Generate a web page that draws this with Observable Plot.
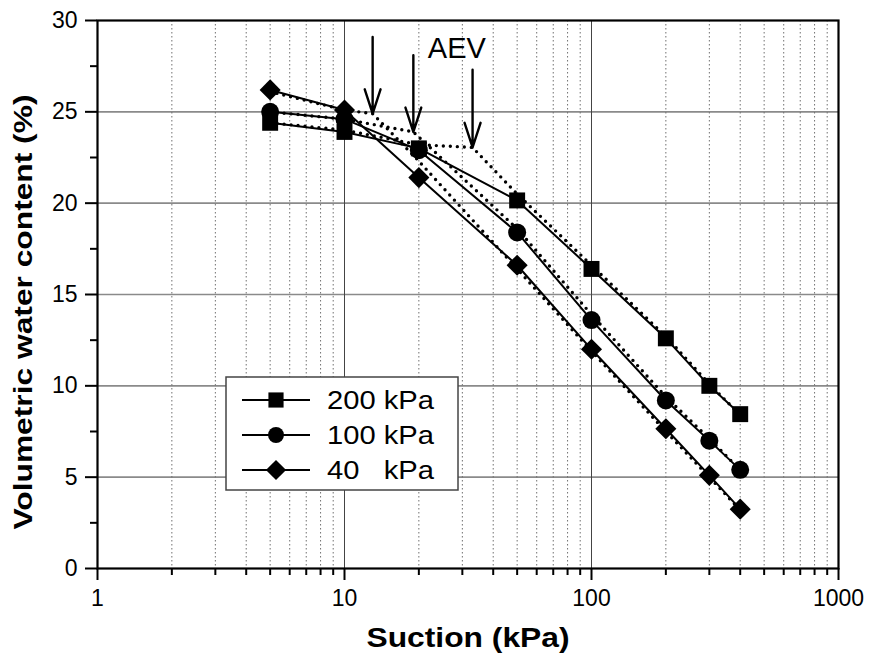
<!DOCTYPE html>
<html><head><meta charset="utf-8">
<script src="https://cdn.jsdelivr.net/npm/d3@7"></script>
<script src="https://cdn.jsdelivr.net/npm/@observablehq/plot@0.6"></script>
<style>
body{margin:0;background:#fff;}
#chart{width:870px;height:656px;}
svg{font-family:"Liberation Sans",Arial,sans-serif;}
</style></head><body><div id="chart"></div>
<script>
// ---- data ----
const suction = [5, 10, 20, 50, 100, 200, 300, 400];
const wc200 = [24.4, 23.9, 23.0, 20.15, 16.4, 12.6, 10.0, 8.45];
const wc100 = [25.0, 24.6, 22.9, 18.4, 13.6, 9.2, 7.0, 5.4];
const wc40  = [26.2, 25.1, 21.4, 16.6, 12.0, 7.65, 5.1, 3.25];

// dotted fitted curves
const fit200Suction = [5, 10, 20, 33, 50, 100, 200, 300, 400];
const fit200Wc      = [24.4, 24.0, 23.2, 23.05, 20.5, 16.6, 12.7, 10.1, 8.4];
const fit100Suction = [5, 10, 19, 50, 100, 200, 300, 400];
const fit100Wc      = [25.0, 24.6, 23.9, 18.6, 13.9, 9.4, 7.1, 5.4];
const fit40Suction  = [5, 10, 13, 20, 50, 100, 200, 300, 400];
const fit40Wc       = [26.1, 25.1, 24.9, 22.3, 16.4, 11.9, 7.5, 5.0, 3.2];

// AEV arrows
const aevSuction = [13, 19, 33];
const aevTip     = [24.9, 23.9, 23.05];
const aevTail    = [29.1, 28.1, 27.3];

const seriesNames = ["200 kPa", "100 kPa", "40   kPa"];

// ticks
const yTicks = [0, 5, 10, 15, 20, 25, 30];
const yMinor = [2.5, 7.5, 12.5, 17.5, 22.5, 27.5];
const yGrid = [5, 10, 15, 20, 25];
const xTicks = [1, 10, 100, 1000];
const xMinor = [2,3,4,5,6,7,8,9,20,30,40,50,60,70,80,90,200,300,400,500,600,700,800,900];
const xMajorGrid = [10, 100];

// ---- build tables ----
const toPts = (xs, ys) => xs.map((x, i) => ({x, y: ys[i]}));
const p200 = toPts(suction, wc200), p100 = toPts(suction, wc100), p40 = toPts(suction, wc40);
const f200 = toPts(fit200Suction, fit200Wc), f100 = toPts(fit100Suction, fit100Wc), f40 = toPts(fit40Suction, fit40Wc);
const aev = aevSuction.map((x, i) => ({x, tip: aevTip[i], tail: aevTail[i]}));

const dotted = {stroke: "black", strokeWidth: 3.4, strokeDasharray: "0,7", strokeLinecap: "round"};
const solid = {stroke: "black", strokeWidth: 2};

const plot = Plot.plot({
  width: 870, height: 656,
  marginLeft: 97, marginRight: 32, marginTop: 20, marginBottom: 88,
  x: {type: "log", domain: [1, 1000], label: null},
  y: {domain: [0, 30], label: null},
  style: {fontFamily: "'Liberation Sans', Arial, sans-serif", background: "white", color: "black"},
  marks: [
    Plot.ruleY(yGrid, {stroke: "#8a8a8a", strokeWidth: 1.6}),
    Plot.ruleX(xMinor, {stroke: "#707070", strokeWidth: 1, strokeDasharray: "1.5,2.5"}),
    Plot.ruleX(xMajorGrid, {stroke: "#444", strokeWidth: 1}),
    Plot.axisY({ticks: yTicks, tickSize: 12, tickPadding: 8, fontSize: 23, strokeWidth: 2, label: null}),
    Plot.axisY({ticks: yMinor, tickSize: 7, tickFormat: () => "", strokeWidth: 2, label: null}),
    Plot.axisX({ticks: xTicks, tickSize: 12, tickPadding: 9, fontSize: 23, strokeWidth: 2, tickFormat: d => String(d), label: null}),
    Plot.axisX({ticks: xMinor, tickSize: 7, tickFormat: () => "", strokeWidth: 2, label: null}),
    Plot.frame({stroke: "black", strokeWidth: 2.2}),
    Plot.line(f200, {x: "x", y: "y", ...dotted}),
    Plot.line(f100, {x: "x", y: "y", ...dotted}),
    Plot.line(f40, {x: "x", y: "y", ...dotted}),
    Plot.line(p200, {x: "x", y: "y", ...solid}),
    Plot.line(p100, {x: "x", y: "y", ...solid}),
    Plot.line(p40, {x: "x", y: "y", ...solid}),
    Plot.dot(p200, {x: "x", y: "y", symbol: "square", r: 9, fill: "black"}),
    Plot.dot(p100, {x: "x", y: "y", symbol: "circle", r: 9, fill: "black"}),
    Plot.dot(p40, {x: "x", y: "y", symbol: "diamond2", r: 9.5, fill: "black"}),
    Plot.arrow(aev, {x1: "x", y1: "tail", x2: "x", y2: "tip", stroke: "black", strokeWidth: 2.4, headLength: 26, headAngle: 36}),
    Plot.text(["AEV"], {x: [28.5], y: [28.45], text: d => d, fontSize: 29, fill: "black"})
  ]
});
document.getElementById("chart").appendChild(plot);

// ---- axis titles and legend ----
const svg = d3.select(plot);
svg.append("text").text("Suction (kPa)")
  .attr("x", 468).attr("y", 647).attr("text-anchor", "middle")
  .attr("font-size", 28).attr("font-weight", "bold")
  .attr("textLength", 203).attr("lengthAdjust", "spacingAndGlyphs").attr("fill", "black");
svg.append("text").text("Volumetric water content (%)")
  .attr("transform", "translate(32,312) rotate(-90)").attr("text-anchor", "middle")
  .attr("font-size", 26).attr("font-weight", "bold")
  .attr("textLength", 435).attr("lengthAdjust", "spacingAndGlyphs").attr("fill", "black");

const lg = svg.append("g").attr("text-anchor", "start");
lg.append("rect").attr("x", 226).attr("y", 377).attr("width", 232).attr("height", 113)
  .attr("fill", "white").attr("stroke", "#444").attr("stroke-width", 1.5);
const legSymbols = [d3.symbolSquare, d3.symbolCircle, d3.symbolDiamond2];
const legSizes = [230, 200, 260];
seriesNames.forEach((name, i) => {
  const cy = 400 + i * 35;
  lg.append("line").attr("x1", 242).attr("x2", 310).attr("y1", cy).attr("y2", cy)
    .attr("stroke", "black").attr("stroke-width", 2);
  lg.append("path").attr("d", d3.symbol(legSymbols[i], legSizes[i])())
    .attr("transform", `translate(276,${cy})`).attr("fill", "black");
  lg.append("text").text(name).attr("x", 327).attr("y", cy + 9)
    .attr("text-anchor", "start")
    .attr("font-size", 25).attr("fill", "black").style("white-space", "pre")
    .attr("textLength", 107).attr("lengthAdjust", "spacingAndGlyphs");
});
</script></body></html>
